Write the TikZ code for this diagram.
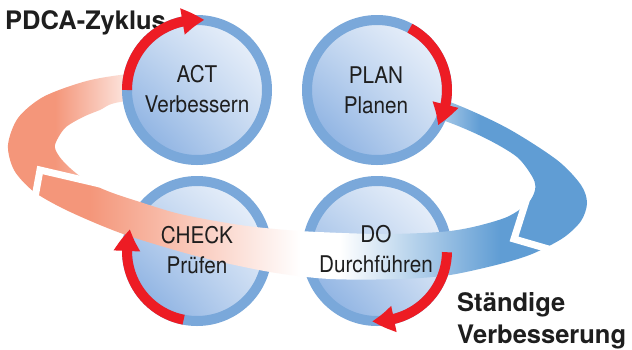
\documentclass[tikz,border=0pt]{standalone}
\usepackage{fontspec}
\setmainfont{TeX Gyre Heros}
\newfontfamily\labelfont[FakeStretch=0.9]{TeX Gyre Heros}
\usetikzlibrary{arrows.meta,bending,calc,shadings}
\definecolor{ringblue}{RGB}{122,168,218}
\definecolor{bandblue}{RGB}{96,157,212}
\definecolor{bandorange}{RGB}{244,150,122}
\definecolor{redarc}{RGB}{237,28,36}
\definecolor{filldark}{RGB}{122,165,221}
\definecolor{filllight}{RGB}{245,248,253}
\definecolor{fillmid}{RGB}{198,217,241}
\definecolor{txt}{RGB}{30,30,30}
\newcommand\outerring{plot[smooth cycle] coordinates {(8,145) (18,118) (43,97) (83,82) (120,75) (200,66) (290,68) (380,80) (450,102) (507,128) (557,160) (581,185) (587,203) (581,221) (563,238) (532,254) (500,264) (450,275) (400,279) (330,279) (270,272) (200,257) (135,238) (100,225) (62,208) (33,191) (14,170)}}
\newcommand\innerring{plot[smooth cycle] coordinates {(55,145) (65,128) (83,117) (100,110) (120,102) (200,94) (300,96) (400,109) (445,121) (485,138) (517,157) (533,178) (535,190) (528,203) (507,217) (473,227) (440,232) (380,234) (300,231) (240,225) (180,214) (140,202) (110,192) (88,182) (70,168) (59,156)}}
\begin{document}
\begin{tikzpicture}[x=1pt,y=-1pt,
  circ/.style={circle, minimum size=140pt, inner sep=0pt, draw=ringblue, line width=10pt,
    shade, upper right=filllight, lower left=filldark, upper left=fillmid, lower right=fillmid},
  lbl/.style={font=\labelfont\fontsize{23}{28}\selectfont, text=txt, anchor=base, inner sep=0pt},
  big/.style={font=\bfseries\fontsize{25.5}{30}\selectfont, text=txt, anchor=base west, inner sep=0pt},
  redarrow/.style={draw=redarc, line width=10pt, -{Triangle[length=22pt,width=25pt,bend]}},
  gapline/.style={draw=white, line width=7pt, miter limit=10}]
\useasboundingbox (0,0) rectangle (632,349);
\fill[white] (0,0) rectangle (632,349);
% upper (rear) part of the band
\begin{scope}[even odd rule]
  \clip \outerring \innerring;
  \clip (-20,-20) -- (660,-20) -- (660,276) -- (600,264) -- (514,239) -- (527,198) -- (300,210) -- (110,187) -- (40,170) -- (29,230) -- (-20,230) -- cycle;
  \fill[bandorange] (-20,-20) rectangle (55,370);
  \shade[left color=bandorange, right color=white] (55,-20) rectangle (150,370);
  \shade[left color=white, right color=bandblue] (395,-20) rectangle (480,370);
  \fill[bandblue] (480,-20) rectangle (660,370);
\end{scope}
% circles
\node[circ] (act) at (197,90) {};
\node[circ] (plan) at (377,90) {};
\node[circ] (check) at (197,251) {};
\node[circ] (doc) at (377,251) {};
% lower (front) part of the band
\begin{scope}[even odd rule]
  \clip \outerring \innerring;
  \clip (-20,230) -- (29,230) -- (40,170) -- (110,187) -- (300,210) -- (527,198) -- (514,239) -- (600,264) -- (660,276) -- (660,370) -- (-20,370) -- cycle;
  \fill[bandorange] (-20,-20) rectangle (90,370);
  \shade[left color=bandorange, right color=white] (90,-20) rectangle (300,370);
  \fill[white] (300,-20) rectangle (340,370);
  \shade[left color=white, right color=bandblue] (340,-20) rectangle (500,370);
  \fill[bandblue] (500,-20) rectangle (660,370);
\end{scope}
% chevron gaps
\draw[gapline] (527,198) -- (514,239) -- (600,264);
\draw[gapline] (29,230) -- (40,170) -- (100,184);
% title
\node[big] (title) at (5,29) {PDCA-Zyklus};
% red arrows
\draw[redarrow] ($(act.center)+(-180:70)$) arc[start angle=-180, end angle=-84, radius=70];
\draw[redarrow] ($(plan.center)+(-62:70)$) arc[start angle=-62, end angle=30, radius=70];
\draw[redarrow] ($(doc.center)+(1:70)$) arc[start angle=1, end angle=94, radius=70];
\draw[redarrow] ($(check.center)+(101:70)$) arc[start angle=101, end angle=198, radius=70];
% labels
\node[lbl] (actA) at (197,82) {ACT};
\node[lbl] (actB) at (197,112) {Verbessern};
\node[lbl] (planA) at (376,83) {PLAN};
\node[lbl] (planB) at (376,113) {Planen};
\node[lbl] (checkA) at (197,243) {CHECK};
\node[lbl] (checkB) at (197,273) {Prüfen};
\node[lbl] (doA) at (376,242) {DO};
\node[lbl] (doB) at (376,272) {Durchführen};
\node[big] (st1) at (457,311) {Ständige};
\node[big] (st2) at (457,343) {Verbesserung};
\end{tikzpicture}
\end{document}
